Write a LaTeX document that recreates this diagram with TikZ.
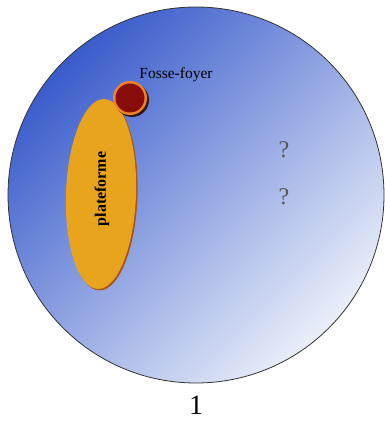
\documentclass[tikz,border=0pt]{standalone}
\usepackage{fontspec}
\setmainfont{Liberation Serif}
\definecolor{skydark}{RGB}{58,92,204}
\definecolor{skymid}{RGB}{140,164,226}
\definecolor{skypale}{RGB}{234,239,249}
\definecolor{platgold}{RGB}{232,164,28}
\definecolor{platshade}{RGB}{170,85,25}
\definecolor{pitred}{RGB}{135,12,10}
\definecolor{pitring}{RGB}{240,130,40}
\begin{document}
\begin{tikzpicture}[x=1pt,y=1pt]
  \useasboundingbox (0,0) rectangle (385,431);
  % site disc, dark in the upper left
  \shade[top color=skydark,middle color=skymid,bottom color=skypale,
    shading angle=45] (196,236) circle (188pt);
  \draw[thick,black!80] (196,236) circle (188pt);
  % platform, with its shadow
  \fill[platshade,rotate around={-2:(102.5,235.5)}] (102.5,235.5) ellipse (35pt and 95pt);
  \fill[platgold,rotate around={-2:(101,237)}] (101,237) ellipse (35pt and 95pt);
  \node[rotate=90,font=\fontsize{16}{16}\selectfont\bfseries] (plat) at (102,242) {plateforme};
  % hearth pit
  \fill[black!70!platshade] (132,331) circle (17pt);
  \fill[pitring] (130,333) circle (17pt);
  \fill[pitred] (130,333) circle (14.5pt);
  \node[font=\fontsize{15.5}{16}\selectfont] (pit) at (176,356) {Fosse-foyer};
  % open questions
  \foreach \n/\y in {q1/281,q2/234}{
    \node[font=\fontsize{24}{24}\selectfont,text=black!65] (\n) at (284,\y) {?};}
  \node[font=\fontsize{28}{28}\selectfont] (num) at (196,26) {1};
\end{tikzpicture}
\end{document}
